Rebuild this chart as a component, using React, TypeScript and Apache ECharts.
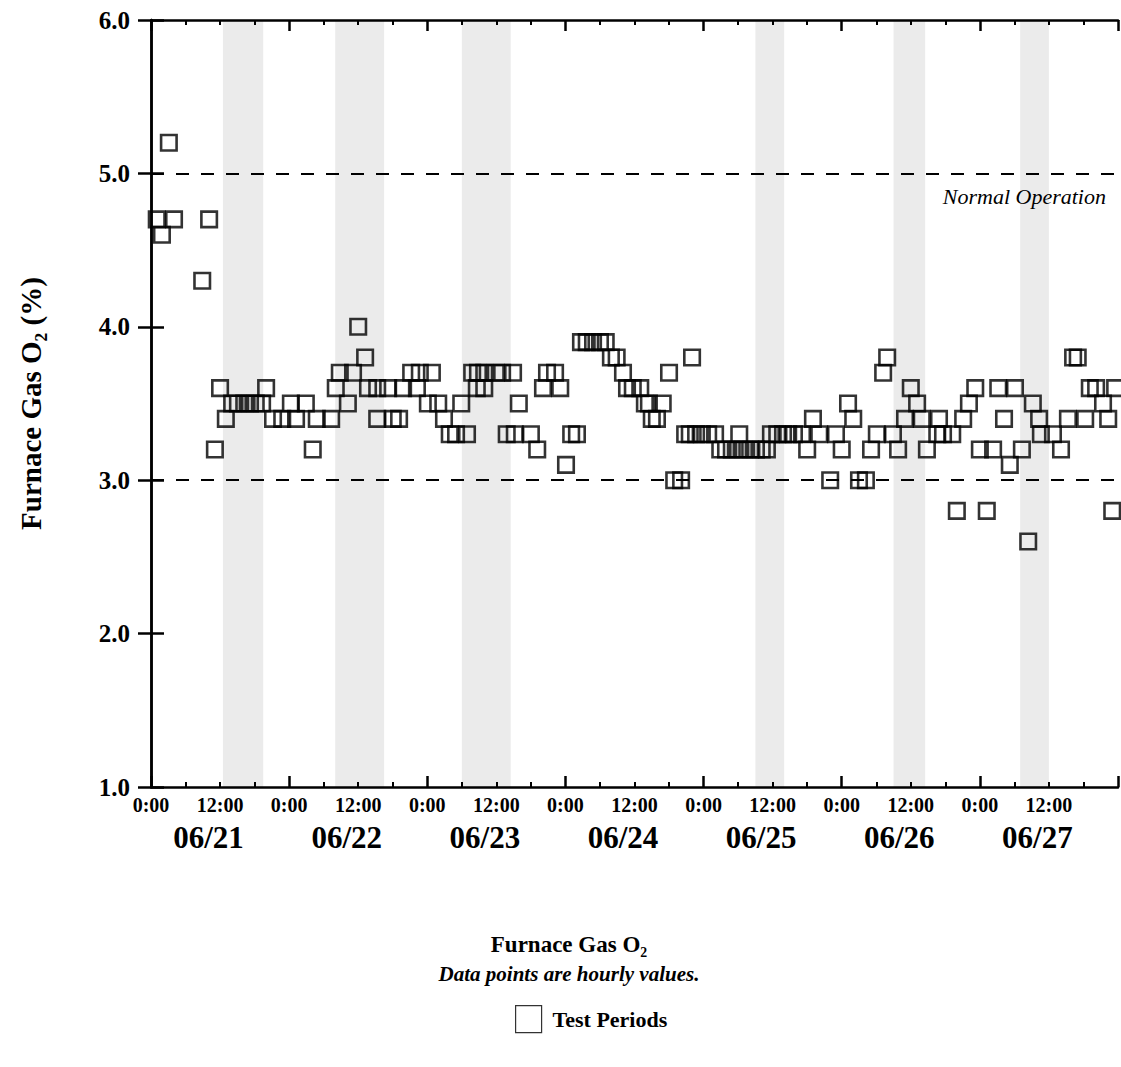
import React, { useEffect, useRef } from "react";
import * as echarts from "echarts";

// Hours since 06/21 0:00 and furnace gas O2 (%)
const hours = [
  1.0, 1.9, 3.1, 4.0, 8.9, 10.1, 11.1, 12.0, 13.0, 14.1, 15.1, 16.2, 17.2, 18.2, 19.3, 20.0,
  21.2, 22.8, 24.3, 25.2, 26.9, 28.1, 28.8, 31.3, 32.1, 32.8, 34.2, 35.1, 36.0, 37.2, 37.7,
  39.3, 39.3, 41.2, 42.0, 43.1, 43.8, 45.2, 46.2, 46.7, 48.1, 48.8, 49.9, 50.9, 51.9, 53.0,
  53.9, 54.9, 55.8, 56.6, 56.8, 57.9, 57.9, 59.9, 61.0, 61.8, 62.9, 63.2, 63.9, 66.0, 67.1,
  68.1, 68.8, 70.2, 71.1, 72.1, 73.0, 74.0, 74.7, 75.7, 76.8, 78.0, 79.0, 79.9, 80.9, 82.0,
  82.7, 83.7, 85.0, 85.8, 86.5, 87.0, 87.9, 88.9, 90.0, 90.9, 92.1, 92.8, 93.6, 94.0, 94.7,
  95.7, 96.8, 98.0, 98.9, 99.9, 100.9, 102.0, 102.2, 103.0, 104.1, 105.1, 106.1, 107.0, 107.7,
  108.8, 109.8, 110.7, 111.7, 113.1, 114.0, 115.0, 116.1, 118.0, 119.0, 120.0, 121.1, 122.0,
  123.0, 124.2, 125.1, 126.1, 127.2, 127.9, 128.9, 129.8, 131.0, 132.0, 133.1, 133.9, 134.8,
  136.6, 136.9, 137.6, 139.2, 140.0, 141.1, 142.1, 143.2, 144.0, 145.2, 146.3, 147.2, 148.2,
  149.2, 150.1, 151.3, 152.4, 153.2, 154.3, 154.6, 156.7, 158.1, 159.3, 160.2, 161.0, 162.3,
  163.1, 164.2, 165.4, 166.3, 167.0, 167.5,
];
const o2 = [
  4.7, 4.6, 5.2, 4.7, 4.3, 4.7, 3.2, 3.6, 3.4, 3.5, 3.5, 3.5, 3.5, 3.5, 3.5, 3.6,
  3.4, 3.4, 3.5, 3.4, 3.5, 3.2, 3.4, 3.4, 3.6, 3.7, 3.5, 3.7, 4.0, 3.8, 3.6,
  3.6, 3.4, 3.6, 3.4, 3.4, 3.6, 3.7, 3.6, 3.7, 3.5, 3.7, 3.5, 3.4, 3.3, 3.3,
  3.5, 3.3, 3.7, 3.6, 3.7, 3.7, 3.6, 3.7, 3.7, 3.3, 3.7, 3.3, 3.5, 3.3, 3.2,
  3.6, 3.7, 3.7, 3.6, 3.1, 3.3, 3.3, 3.9, 3.9, 3.9, 3.9, 3.9, 3.8, 3.8, 3.7,
  3.6, 3.6, 3.6, 3.5, 3.5, 3.4, 3.4, 3.5, 3.7, 3.0, 3.0, 3.3, 3.3, 3.8, 3.3,
  3.3, 3.3, 3.3, 3.2, 3.2, 3.2, 3.2, 3.3, 3.2, 3.2, 3.2, 3.2, 3.2, 3.3,
  3.3, 3.3, 3.3, 3.3, 3.3, 3.2, 3.4, 3.3, 3.0, 3.3, 3.2, 3.5, 3.4,
  3.0, 3.0, 3.2, 3.3, 3.7, 3.8, 3.3, 3.2, 3.4, 3.6, 3.5, 3.4, 3.2,
  3.3, 3.4, 3.3, 3.3, 2.8, 3.4, 3.5, 3.6, 3.2, 2.8, 3.2, 3.6, 3.4,
  3.1, 3.6, 3.2, 2.6, 3.5, 3.4, 3.3, 3.3, 3.2, 3.4, 3.8, 3.8, 3.4,
  3.6, 3.6, 3.5, 3.4, 2.8, 3.6,
];

// Test periods (hours since 06/21 0:00)
const testStart = [12.5, 32, 54, 105, 129, 151];
const testEnd = [19.5, 40.5, 62.5, 110, 134.5, 156];

// Normal operation limits
const limitValues = [5.0, 3.0];

// Axis labels
const timeLabelHours = [0, 12, 24, 36, 48, 60, 72, 84, 96, 108, 120, 132, 144, 156];
const dayLabels = ["06/21", "06/22", "06/23", "06/24", "06/25", "06/26", "06/27"];
const dayLabelHours = [10, 34, 58, 82, 106, 130, 154];

const SERIF = '"Liberation Serif", "Times New Roman", serif';

export default function App() {
  const ref = useRef<HTMLDivElement>(null);

  useEffect(() => {
    if (!ref.current) return;
    const chart = echarts.init(ref.current, undefined, { renderer: "svg" });

    const axisLine = { show: true, lineStyle: { color: "#000", width: 2.5 } };
    const xTick = { show: true, inside: true, length: 11, lineStyle: { color: "#000", width: 2.5 } };
    const xMinor = { show: true, splitNumber: 4, length: 5, lineStyle: { color: "#000", width: 2 } };

    chart.setOption({
      animation: false,
      backgroundColor: "#fff",
      title: {
        text: "Furnace Gas O₂",
        subtext: "Data points are hourly values.",
        left: 564,
        textAlign: "center",
        top: 928,
        itemGap: 7,
        textStyle: { fontFamily: SERIF, fontWeight: "bold", fontSize: 23, color: "#000" },
        subtextStyle: { fontFamily: SERIF, fontWeight: "bold", fontStyle: "italic", fontSize: 21, color: "#000" },
      },
      legend: {
        left: 510,
        top: 1000,
        itemWidth: 26,
        itemHeight: 27,
        itemGap: 10,
        textStyle: { fontFamily: SERIF, fontWeight: "bold", fontSize: 22, color: "#000", padding: [0, 0, 0, 6] },
        data: [
          {
            name: "Test Periods",
            icon: "rect",
            itemStyle: { color: "#fff", borderColor: "#000", borderWidth: 1.2 },
          },
        ],
      },
      grid: { left: 151, top: 20, right: 3, bottom: 280, containLabel: false },
      xAxis: [
        {
          type: "value",
          min: 0,
          max: 168,
          interval: 24,
          position: "bottom",
          axisLine,
          axisTick: xTick,
          minorTick: xMinor,
          splitLine: { show: false },
          axisLabel: {
            customValues: timeLabelHours,
            formatter: (v: number) => (v % 24 === 0 ? "0:00" : "12:00"),
            fontFamily: SERIF,
            fontWeight: "bold",
            fontSize: 20,
            color: "#000",
            margin: 8,
          },
        },
        {
          type: "value",
          min: 0,
          max: 168,
          interval: 24,
          position: "top",
          axisLine,
          axisTick: xTick,
          minorTick: xMinor,
          splitLine: { show: false },
          axisLabel: { show: false },
        },
        {
          type: "value",
          min: 0,
          max: 168,
          position: "bottom",
          offset: 30,
          axisLine: { show: false },
          axisTick: { show: false },
          splitLine: { show: false },
          axisLabel: {
            customValues: dayLabelHours,
            formatter: (v: number) => dayLabels[dayLabelHours.indexOf(v)] ?? "",
            fontFamily: SERIF,
            fontWeight: "bold",
            fontSize: 31,
            color: "#000",
            margin: 5,
          },
        },
      ],
      yAxis: [
        {
          type: "value",
          min: 1,
          max: 6,
          interval: 1,
          position: "left",
          name: "Furnace Gas O₂ (%)",
          nameLocation: "middle",
          nameRotate: 90,
          nameGap: 106,
          nameTextStyle: { fontFamily: SERIF, fontWeight: "bold", fontSize: 29, color: "#000" },
          axisLine,
          axisTick: { show: true, inside: true, length: 13, lineStyle: { color: "#000", width: 2.5 } },
          splitLine: { show: false },
          axisLabel: {
            formatter: (v: number) => v.toFixed(1),
            fontFamily: SERIF,
            fontWeight: "bold",
            fontSize: 25,
            color: "#000",
            margin: 21,
          },
        },
        {
          type: "value",
          min: 1,
          max: 6,
          interval: 1,
          position: "right",
          axisLine,
          axisTick: { show: true, inside: true, length: 13, lineStyle: { color: "#000", width: 2.5 } },
          splitLine: { show: false },
          axisLabel: { show: false },
        },
      ],
      series: [
        {
          name: "Test Periods",
          type: "scatter",
          xAxisIndex: 0,
          yAxisIndex: 0,
          data: [],
          z: 1,
          markArea: {
            silent: true,
            itemStyle: { color: "rgba(0,0,0,0.08)" },
            data: testStart.map((s, i) => [{ xAxis: s }, { xAxis: testEnd[i] }]),
          },
        },
        {
          name: "O2",
          type: "scatter",
          xAxisIndex: 0,
          yAxisIndex: 0,
          z: 3,
          symbol: "rect",
          symbolSize: 15.5,
          itemStyle: { color: "rgba(0,0,0,0)", borderColor: "#000", borderWidth: 2.6 },
          data: hours.map((h, i) => [h, o2[i]]),
          markLine: {
            silent: true,
            symbol: "none",
            lineStyle: { color: "#000", width: 2, type: [13, 12] },
            label: { show: false },
            data: limitValues.map((v, i) => ({
              yAxis: v,
              label:
                i === 0
                  ? {
                      show: true,
                      position: "insideEndBottom",
                      formatter: "Normal Operation",
                      fontFamily: SERIF,
                      fontStyle: "italic",
                      fontSize: 22,
                      color: "#000",
                      distance: [12, 12],
                    }
                  : { show: false },
            })),
          },
        },
      ],
    });

    return () => chart.dispose();
  }, []);

  return (
    <div
      ref={ref}
      style={{ position: "fixed", left: 0, top: 0, width: 1121, height: 1067, background: "#fff" }}
    />
  );
}
